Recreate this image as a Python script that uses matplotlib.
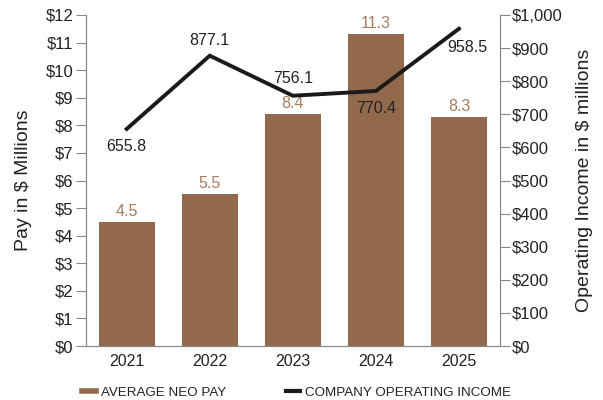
import matplotlib
matplotlib.use("Agg")
from matplotlib import pyplot as plt
from matplotlib.lines import Line2D
import numpy as np

years = ["2021", "2022", "2023", "2024", "2025"]
neo_pay = [4.5, 5.5, 8.4, 11.3, 8.3]
op_income = [655.8, 877.1, 756.1, 770.4, 958.5]

pay_ticks = list(range(0, 13))
income_ticks = list(range(0, 1001, 100))

BAR = "#93694b"
BAR_TEXT = "#a67c5e"
GREY = "#888888"
TEXT = "#222222"

plt.rcParams["font.family"] = ["Liberation Sans", "DejaVu Sans"]

fig = plt.figure(figsize=(6.03, 4.0), dpi=100)
ax = fig.add_axes([0.1426, 0.135, 0.686, 0.8275])
ax2 = ax.twinx()

x = np.arange(len(years))
ax.bar(x, neo_pay, width=0.675, color=BAR, zorder=2)
for xi, v in zip(x, neo_pay):
    ax.text(xi, v + 0.12, f"{v}", ha="center", va="bottom", fontsize=11.5, color=BAR_TEXT)

ax.set_xlim(-0.49, 4.49)
ax.set_ylim(0, 12)
ax.set_yticks(pay_ticks)
ax.set_yticklabels([f"${t}" for t in pay_ticks])
ax.set_xticks(x)
ax.set_xticklabels(years)
ax.set_ylabel("Pay in $ Millions", fontsize=14, color=TEXT)
ax.yaxis.set_label_coords(-0.130, 0.5)

ax2.plot(x, op_income, color="#1a1a1a", lw=2.8, zorder=3, solid_joinstyle="miter")
ax2.set_ylim(0, 1000)
ax2.set_yticks(income_ticks)
ax2.set_yticklabels([f"${t:,}" for t in income_ticks])
ax2.set_ylabel("Operating Income in $ millions", fontsize=14, color=TEXT)
ax2.yaxis.set_label_coords(1.184, 0.5)

# line value labels: (dx, dy in data units of ax2, va)
offsets = [(0, -30, "top"), (0, 22, "bottom"), (0, 30, "bottom"), (0, -30, "top"), (0.1, -35, "top")]
for xi, v, (dx, dy, va) in zip(x, op_income, offsets):
    ax2.text(xi + dx, v + dy, f"{v}", ha="center", va=va, fontsize=11.5, color=TEXT)

for a in (ax, ax2):
    a.spines["top"].set_visible(False)
    a.spines["left"].set_color(GREY)
    a.spines["right"].set_color(GREY)
    a.spines["bottom"].set_color(GREY)
    a.tick_params(colors=GREY, labelcolor=TEXT, labelsize=12, length=7, width=0.8, pad=2)
ax.tick_params(axis="x", length=0, pad=6, labelsize=11.5)

handles = [Line2D([0], [0], color=BAR, lw=4), Line2D([0], [0], color="#1a1a1a", lw=3)]
fig.legend(handles, ["AVERAGE NEO PAY", "COMPANY OPERATING INCOME"], loc="center",
           bbox_to_anchor=(0.492, 0.018), ncol=2, frameon=False, fontsize=9.6,
           handlelength=1.05, handletextpad=0.35, columnspacing=4.5, labelcolor=TEXT)

fig.savefig("out.png", dpi=100)
